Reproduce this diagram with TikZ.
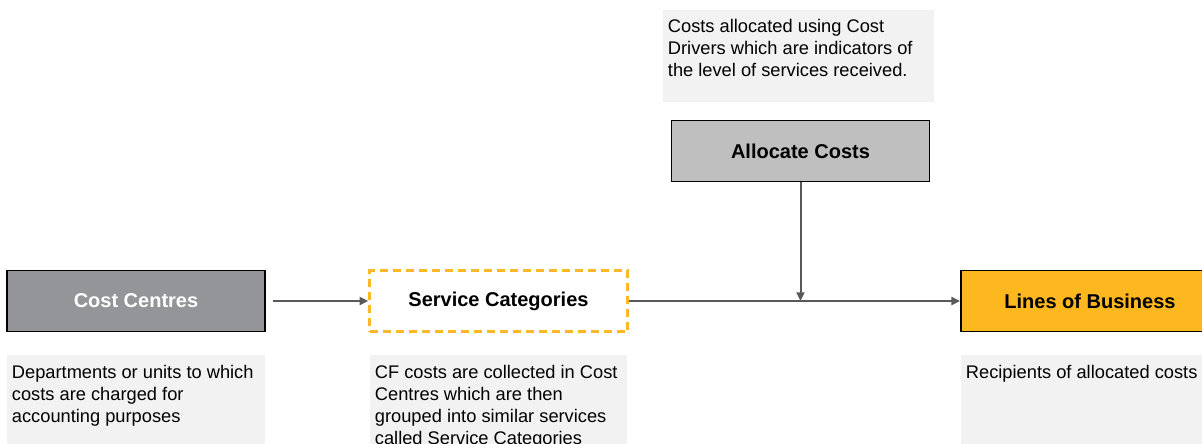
\documentclass[tikz,border=0pt]{standalone}
\usepackage{fontspec}
\setmainfont{Liberation Sans}
\usetikzlibrary{arrows.meta}
\definecolor{ccgray}{HTML}{939598}
\definecolor{algray}{HTML}{BFBFBF}
\definecolor{lobor}{HTML}{FDB71F}
\definecolor{dashor}{HTML}{FDB827}
\definecolor{descbg}{HTML}{F2F2F2}
\definecolor{arrgray}{HTML}{595959}
\tikzset{
  mainbox/.style={rectangle, minimum width=193.5pt, minimum height=45.75pt,
    line width=1.4pt, inner sep=0pt, font=\fontsize{15}{18}\selectfont\bfseries},
  descbox/.style={rectangle, fill=descbg, anchor=north west, inner xsep=3.5pt, inner ysep=4.2pt,
    font=\fontsize{13.7}{16.5}\selectfont},
  conn/.style={draw=arrgray, line width=1.5pt, -{Triangle[length=6.5pt,width=6pt]}},
}
\newcommand{\desctext}[4]{\parbox[t][#2][t]{#1}{\raggedright\rule{0pt}{#3}#4}}
\begin{document}
\begin{tikzpicture}[x=0.75pt,y=-0.75pt]
\path[use as bounding box, clip] (0,0) rectangle (1202,443);
% description boxes
\node[descbox] (dtop) at (663,10) {\desctext{196pt}{60.6pt}{12.3pt}{Costs allocated using Cost\\Drivers which are indicators of\\the level of services received.}};
\node[descbox] (dcc) at (7,355) {\desctext{186.5pt}{67pt}{13pt}{Departments or units to which\\costs are charged for\\accounting purposes}};
\node[descbox] (dsc) at (370,355) {\desctext{185.75pt}{67pt}{13pt}{CF costs are collected in Cost\\Centres which are then\\grouped into similar services\\called Service Categories}};
\node[descbox] (dlob) at (961,355) {\desctext{186.5pt}{67pt}{13pt}{Recipients of allocated costs}};
% main boxes
\node[mainbox, draw=black, fill=ccgray, text=white] (cc) at (136,301) {Cost Centres};
\node[mainbox, draw=dashor, line width=1.8pt, dash pattern=on 6pt off 3.75pt] (sc) at (498.5,301) {Service Categories};
\node[mainbox, draw=black, fill=algray] (ac) at (800.5,151) {Allocate Costs};
\node[mainbox, draw=black, fill=lobor] (lob) at (1090,301) {Lines of Business};
% connectors
\coordinate (j) at (ac.south |- sc.east);
\draw[conn, shorten <=5pt] (cc.east) -- (sc.west);
\draw[conn] (sc.east) -- (lob.west);
\draw[conn] (ac.south) -- (j);
\end{tikzpicture}
\end{document}
